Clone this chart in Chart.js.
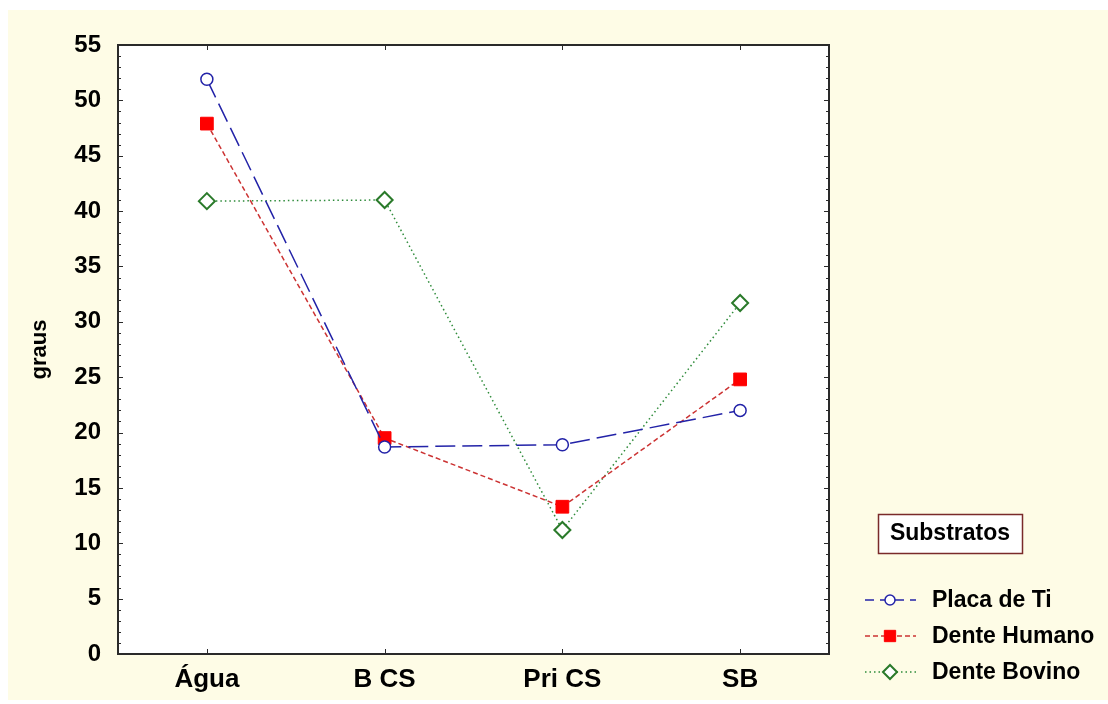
<!DOCTYPE html>
<html>
<head>
<meta charset="utf-8">
<script src="https://cdn.jsdelivr.net/npm/chart.js@4.4.0/dist/chart.umd.min.js"></script>
<style>
html, body { margin: 0; padding: 0; background: #fff; }
</style>
</head>
<body>
<canvas id="myChart" width="1108" height="704"></canvas>
<script>
// values
const categories = ['Água', 'B CS', 'Pri CS', 'SB'];
const placaDeTi = [51.9, 18.7, 18.9, 22.0];
const denteHumano = [47.9, 19.5, 13.3, 24.8];
const denteBovino = [40.9, 41.0, 11.2, 31.7];
const yMin = 0, yMax = 55, yStep = 5;
const legendTitle = 'Substratos';

const FONT = 'Liberation Sans, Arial, sans-serif';

// page background, yellow panel and white plot area
const backdrop = {
    id: 'backdrop',
    beforeDraw(chart) {
        const c = chart.ctx, a = chart.chartArea;
        c.save();
        c.fillStyle = '#ffffff';
        c.fillRect(0, 0, chart.width, chart.height);
        c.fillStyle = '#fefce6';
        c.fillRect(8, 10, chart.width - 8, chart.height - 14);
        c.fillStyle = '#ffffff';
        c.fillRect(a.left, a.top, a.right - a.left, a.bottom - a.top);
        c.restore();
    }
};

// frame with the small inward ticks on all four sides
const frame = {
    id: 'frame',
    afterDraw(chart) {
        const c = chart.ctx, a = chart.chartArea;
        const y = chart.scales.y, x = chart.scales.x;
        c.save();
        c.strokeStyle = '#2a2a2a';
        c.lineWidth = 1;
        c.beginPath();
        for (let v = yMin; v <= yMax; v++) {
            const py = Math.round(y.getPixelForValue(v)) + 0.5;
            const len = v % yStep === 0 ? 5 : 3;
            c.moveTo(a.left, py); c.lineTo(a.left + len, py);
            c.moveTo(a.right, py); c.lineTo(a.right - len, py);
        }
        categories.forEach((_, i) => {
            const px = Math.round(x.getPixelForValue(i)) + 0.5;
            c.moveTo(px, a.top); c.lineTo(px, a.top + 5);
            c.moveTo(px, a.bottom); c.lineTo(px, a.bottom - 5);
        });
        c.stroke();
        c.lineWidth = 2;
        c.strokeRect(a.left, a.top, a.right - a.left, a.bottom - a.top);
        c.restore();
    }
};

// legend box in the lower right corner
const sideLegend = {
    id: 'sideLegend',
    afterDraw(chart) {
        const c = chart.ctx;
        c.save();
        c.font = 'bold 23px ' + FONT;
        c.textBaseline = 'middle';
        c.fillStyle = '#ffffff';
        c.fillRect(878, 514, 144, 39);
        c.strokeStyle = '#7a2a2a';
        c.lineWidth = 1.5;
        c.strokeRect(878.5, 514.5, 144, 39);
        c.fillStyle = '#000';
        c.textAlign = 'center';
        c.fillText(legendTitle, 950, 534);

        c.textAlign = 'left';
        chart.data.datasets.forEach((ds, i) => {
            const yy = 600 + i * 36;
            c.strokeStyle = ds.borderColor;
            c.lineWidth = ds.borderWidth;
            c.setLineDash(ds.legendDash || ds.borderDash);
            c.beginPath();
            c.moveTo(865, yy); c.lineTo(916, yy);
            c.stroke();
            c.setLineDash([]);
            c.fillStyle = ds.pointBackgroundColor;
            c.strokeStyle = ds.pointBorderColor;
            c.lineWidth = ds.pointBorderWidth;
            Chart.helpers.drawPoint(c, {
                pointStyle: ds.pointStyle, radius: ds.pointRadius - 1,
                rotation: 0, borderWidth: ds.pointBorderWidth
            }, 890, yy);
            c.fillStyle = '#000';
            c.fillText(ds.label, 932, yy + 1);
        });
        c.restore();
    }
};

const ctx = document.getElementById('myChart').getContext('2d');
const myChart = new Chart(ctx, {
    type: 'line',
    data: {
        labels: categories,
        datasets: [{
            label: 'Placa de Ti',
            data: placaDeTi,
            borderColor: '#2323a8',
            borderWidth: 1.5,
            borderDash: [20, 7],
            legendDash: [9, 6],
            pointStyle: 'circle',
            pointRadius: 6,
            pointBackgroundColor: '#ffffff',
            pointBorderColor: '#2323a8',
            pointBorderWidth: 1.5
        }, {
            label: 'Dente Humano',
            data: denteHumano,
            borderColor: '#cc3333',
            borderWidth: 1.5,
            borderDash: [5, 3],
            pointStyle: 'rect',
            pointRadius: 9,
            pointBackgroundColor: '#ff0000',
            pointBorderColor: '#ff0000',
            pointBorderWidth: 1
        }, {
            label: 'Dente Bovino',
            data: denteBovino,
            borderColor: '#2e8b3a',
            borderWidth: 1.5,
            borderDash: [1.5, 3],
            pointStyle: 'rectRot',
            pointRadius: 8,
            pointBackgroundColor: '#ffffff',
            pointBorderColor: '#2a7a2a',
            pointBorderWidth: 2
        }]
    },
    options: {
        responsive: false,
        animation: false,
        layout: { padding: { left: 8, top: 45, right: 279, bottom: 0 } },
        scales: {
            x: {
                type: 'category',
                offset: true,
                grid: { display: false, drawTicks: false },
                border: { display: false },
                ticks: {
                    color: '#000',
                    padding: 10,
                    font: { family: FONT, size: 26, weight: 'bold' }
                },
                afterFit(s) { s.height = 50; }
            },
            y: {
                min: yMin,
                max: yMax,
                grid: { display: false, drawTicks: false },
                border: { display: false },
                ticks: {
                    stepSize: yStep,
                    color: '#000',
                    padding: 17,
                    font: { family: FONT, size: 24, weight: 'bold' }
                },
                title: {
                    display: true,
                    text: 'graus',
                    color: '#000',
                    padding: { top: 19 },
                    font: { family: FONT, size: 22, weight: 'bold' }
                },
                afterFit(s) { s.width = 110; }
            }
        },
        plugins: {
            legend: { display: false },
            tooltip: { enabled: false }
        }
    },
    plugins: [backdrop, frame, sideLegend]
});
</script>
</body>
</html>
